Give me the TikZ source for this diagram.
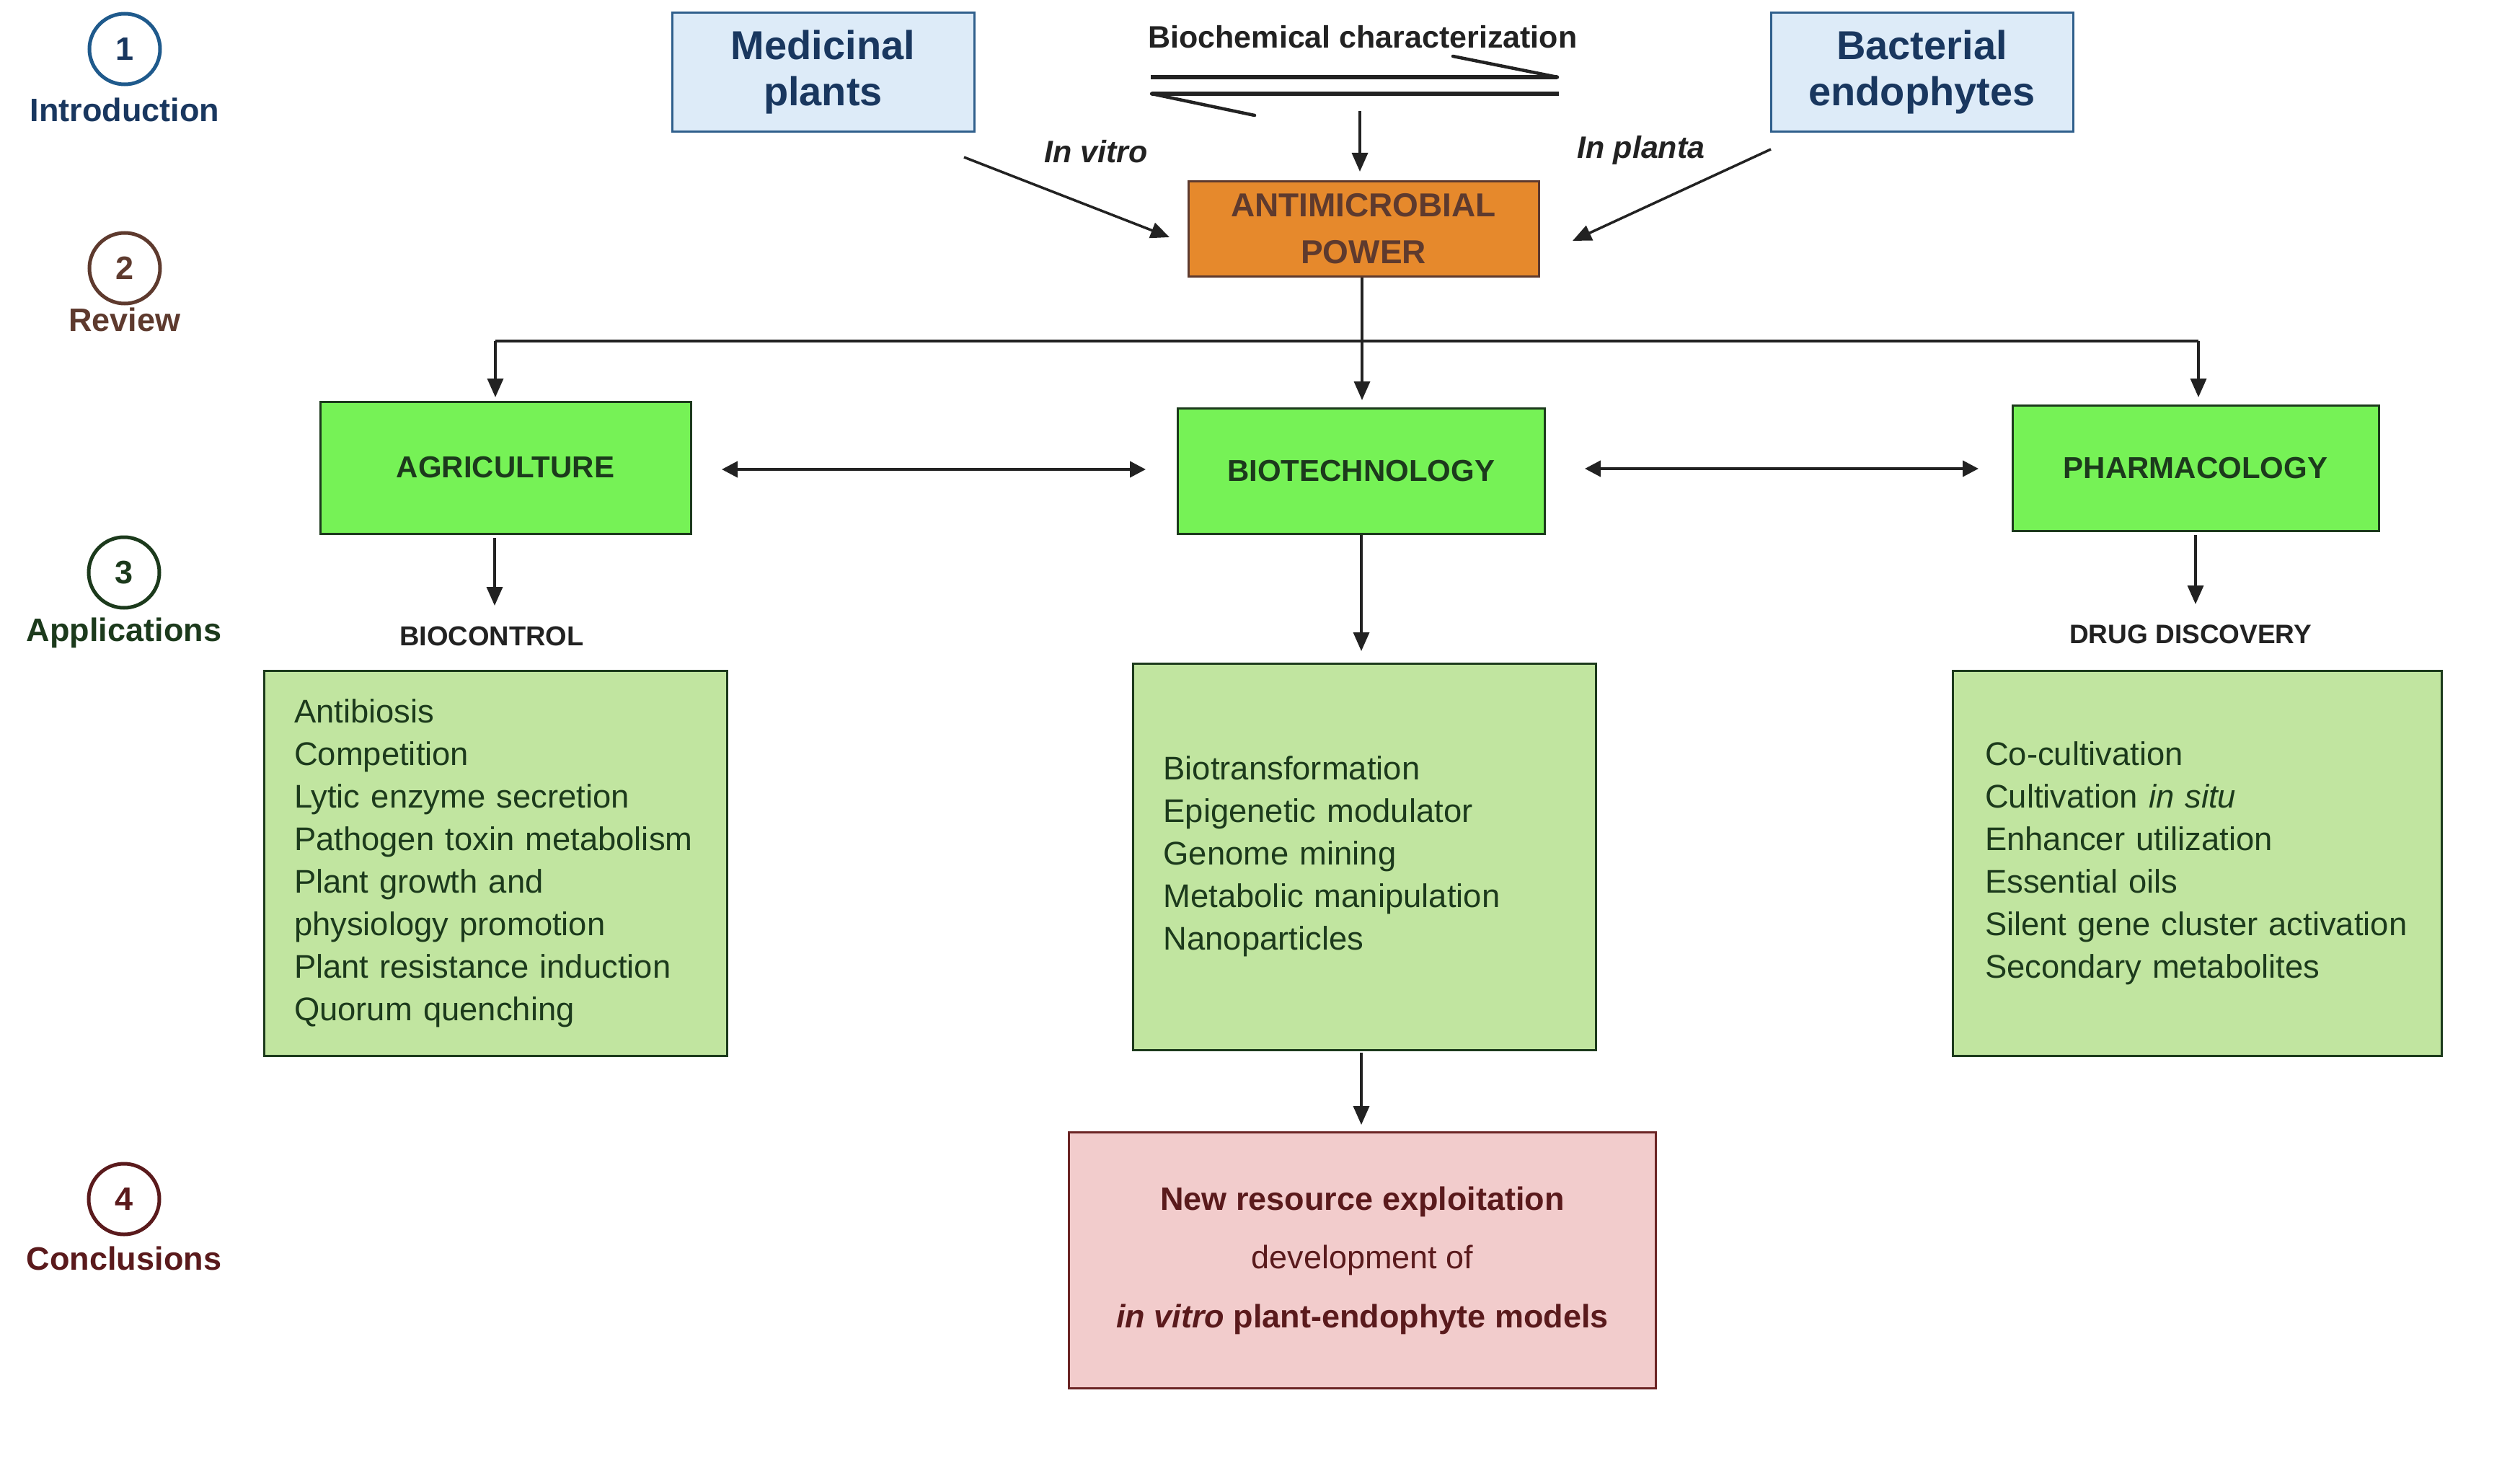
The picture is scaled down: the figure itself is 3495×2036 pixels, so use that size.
\documentclass[tikz,border=0pt]{standalone}
\usepackage{fontspec}
\setmainfont{Liberation Sans}
\usetikzlibrary{arrows.meta}
\definecolor{introblue}{HTML}{1F5A8C}
\definecolor{navy}{HTML}{19375F}
\definecolor{revbrown}{HTML}{5E3A2E}
\definecolor{appgreen}{HTML}{1C3A1C}
\definecolor{concred}{HTML}{5A1A1C}
\definecolor{lightblue}{HTML}{DDEBF8}
\definecolor{boxblue}{HTML}{2F5F8C}
\definecolor{orangefill}{HTML}{E6892C}
\definecolor{brightgreen}{HTML}{76F256}
\definecolor{palegreen}{HTML}{C1E5A0}
\definecolor{pinkfill}{HTML}{F2CCCC}
\definecolor{pinkborder}{HTML}{6B2424}
\definecolor{arrowgray}{HTML}{222222}
\newcommand{\fsz}[2]{\fontsize{#1}{#2}\selectfont}
\tikzset{
  numcirc/.style={circle, line width=5pt, minimum size=98pt, inner sep=0pt, font=\fsz{45}{54}\bfseries},
  steplabel/.style={inner sep=0pt, font=\fsz{45}{54}\bfseries},
  srcbox/.style={draw=boxblue, fill=lightblue, line width=3pt, text=navy, align=center,
    minimum width=419pt, minimum height=165pt, inner sep=0pt, font=\fsz{56}{64}\bfseries},
  antibox/.style={draw=revbrown, fill=orangefill, line width=3pt, text=revbrown, align=center,
    minimum width=486pt, minimum height=131pt, inner sep=0pt, font=\fsz{46}{65}\bfseries},
  fieldbox/.style={draw=appgreen, fill=brightgreen, line width=3pt, text=appgreen,
    inner sep=0pt, font=\fsz{42}{50}\bfseries},
  listbox/.style={draw=appgreen, fill=palegreen, line width=3pt, text=appgreen, align=left,
    inner xsep=42pt, inner ysep=0pt, font=\fsz{45.4}{59}\selectfont},
  sublabel/.style={inner sep=0pt, text=arrowgray, font=\fsz{37}{44}\bfseries},
  plainlabel/.style={inner sep=0pt, text=arrowgray},
  arr/.style={draw=arrowgray, line width=3.5pt, -{Triangle[length=26pt,width=22pt]}},
  dblarr/.style={draw=arrowgray, line width=4pt, {Triangle[length=22pt,width=22pt]}-{Triangle[length=22pt,width=22pt]}},
  plainline/.style={draw=arrowgray, line width=3.5pt},
  harp/.style={draw=arrowgray, line width=5.5pt}
}
\begin{document}
\begin{tikzpicture}[x=1pt,y=-1pt]
\useasboundingbox[fill=white] (0,0) rectangle (3495,2036);

% step markers
\node[numcirc, draw=introblue, text=navy] (c1) at (173,68) {1};
\node[steplabel, text=navy] (l1) at (173,152) {Introduction};
\node[numcirc, draw=revbrown, text=revbrown] (c2) at (173,372) {2};
\node[steplabel, text=revbrown] (l2) at (173,443) {Review};
\node[numcirc, draw=appgreen, text=appgreen] (c3) at (172,794) {3};
\node[steplabel, text=appgreen] (l3) at (172,878) {Applications};
\node[numcirc, draw=concred, text=concred] (c4) at (172,1663) {4};
\node[steplabel, text=concred] (l4) at (172,1745) {Conclusions};

% top sources
\node[srcbox] (med) at (1141.5,100.5) {\raisebox{-4pt}{Medicinal}\\\raisebox{-4pt}{plants}};
\node[srcbox] (bac) at (2665.5,100.5) {\raisebox{-4pt}{Bacterial}\\\raisebox{-4pt}{endophytes}};
\node[plainlabel, font=\fsz{43}{50}\bfseries] (bio) at (1890,51) {Biochemical characterization};

% equilibrium harpoons
\coordinate (h1s) at (1596,107);
\coordinate (h1e) at (2160,107);
\coordinate (h1b) at (2015,78);
\coordinate (h2s) at (2162,130);
\coordinate (h2e) at (1597,130);
\coordinate (h2b) at (1740,160);
\draw[harp] (h1s) -- (h1e);
\draw[draw=arrowgray, line width=4.5pt, line cap=round] (h1b) -- (h1e);
\draw[harp] (h2s) -- (h2e);
\draw[draw=arrowgray, line width=4.5pt, line cap=round] (h2b) -- (h2e);

% antimicrobial power
\node[antibox] (anti) at (1891,317.5) {ANTIMICROBIAL\\POWER};
\coordinate (bds) at (1886,154);
\coordinate (bde) at (1886,238);
\draw[arr] (bds) -- (bde);

\node[plainlabel, font=\fsz{43}{50}\bfseries\itshape] (ivt) at (1520,210) {In vitro};
\node[plainlabel, font=\fsz{43}{50}\bfseries\itshape] (ipl) at (2276,208) {In planta};
\coordinate (ms) at (1337,218);
\coordinate (me) at (1622,329);
\coordinate (bs) at (2456,207);
\coordinate (be) at (2181,334);
\draw[arr] (ms) -- (me);
\draw[arr] (bs) -- (be);

% distribution
\coordinate (j0) at (1889,473);
\coordinate (jl) at (687,473);
\coordinate (jr) at (3049,473);
\draw[plainline] (anti.south -| j0) -- (j0);
\draw[plainline] (jl) -- (jr);

\node[fieldbox, minimum width=514pt, minimum height=183pt] (agri) at (701,648.5) {AGRICULTURE};
\node[fieldbox, minimum width=509pt, minimum height=174pt] (biot) at (1887.5,653) {BIOTECHNOLOGY};
\node[fieldbox, minimum width=508pt, minimum height=174pt] (phar) at (3045,649) {PHARMACOLOGY};

\coordinate (al) at (687,551);
\coordinate (bl) at (1889,555);
\coordinate (pl) at (3049,551);
\draw[arr] (jl) -- (al);
\draw[arr] (j0) -- (bl);
\draw[arr] (jr) -- (pl);

% double arrows
\coordinate (d1a) at (1001,651);
\coordinate (d1b) at (1589,651);
\coordinate (d2a) at (2198,650);
\coordinate (d2b) at (2744,650);
\draw[dblarr] (d1a) -- (d1b);
\draw[dblarr] (d2a) -- (d2b);

% sub labels
\node[sublabel, font=\fsz{38}{44}\bfseries] (bctl) at (682,882) {BIOCONTROL};
\node[sublabel] (drug) at (3038,880) {DRUG DISCOVERY};
\coordinate (a1) at (686,746);
\coordinate (a2) at (686,840);
\coordinate (b1) at (1888,742);
\coordinate (b2) at (1888,903);
\coordinate (p1) at (3045,742);
\coordinate (p2) at (3045,838);
\draw[arr] (a1) -- (a2);
\draw[arr] (b1) -- (b2);
\draw[arr] (p1) -- (p2);

% list boxes
\node[listbox, text width=558pt, minimum height=534pt] (lbox) at (687,1197)
  {Antibiosis\\Competition\\Lytic enzyme secretion\\Pathogen toxin metabolism\\Plant growth and\\physiology promotion\\Plant resistance induction\\Quorum quenching};
\node[listbox, text width=558pt, minimum height=536pt] (mbox) at (1892.5,1188)
  {Biotransformation\\Epigenetic modulator\\Genome mining\\Metabolic manipulation\\Nanoparticles};
\node[listbox, inner xsep=45pt, text width=588pt, minimum height=534pt] (rbox) at (3047,1197)
  {Co-cultivation\\Cultivation \textit{in situ}\\Enhancer utilization\\Essential oils\\Silent gene cluster activation\\Secondary metabolites};

% conclusion
\coordinate (m1) at (1888,1460);
\coordinate (m2) at (1888,1560);
\draw[arr] (m1) -- (m2);
\node[draw=pinkborder, fill=pinkfill, line width=3pt, text=concred, align=center,
  minimum width=814pt, minimum height=355pt, inner sep=0pt, font=\fsz{45}{81.5}\selectfont] (pbox) at (1889.5,1748)
  {\textbf{New resource exploitation}\\development of\\\textbf{\textit{in vitro} plant-endophyte models}};
\end{tikzpicture}
\end{document}
